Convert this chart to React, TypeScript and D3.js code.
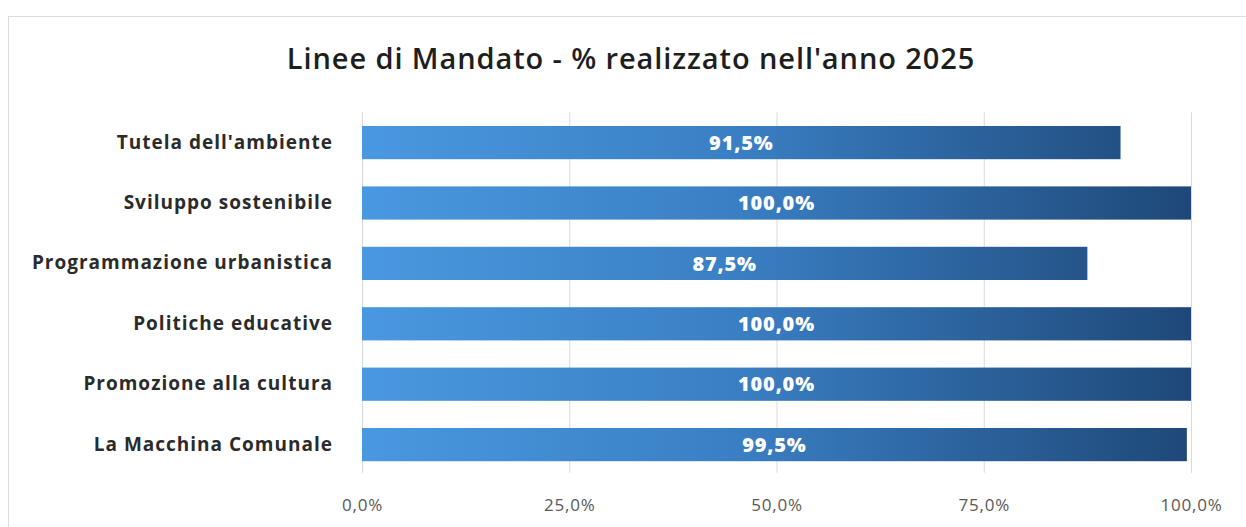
import React, { useEffect, useRef } from 'react';
import * as d3 from 'd3';

const categories = [
  'Tutela dell\'ambiente',
  'Sviluppo sostenibile',
  'Programmazione urbanistica',
  'Politiche educative',
  'Promozione alla cultura',
  'La Macchina Comunale',
];
const values = [0.915, 1.0, 0.875, 1.0, 1.0, 0.995];
const tickValues = [0, 0.25, 0.5, 0.75, 1.0];
const title = "Linee di Mandato - % realizzato nell'anno 2025";

const width = 1246,
  height = 527,
  margin = { top: 112.4, right: 55, bottom: 52.2, left: 362 };

const it = d3.formatLocale({ decimal: ',', thousands: '.', grouping: [3], currency: ['', '€'] });
const pct = it.format('.1%');

export default function App() {
  const ref = useRef<SVGSVGElement>(null);

  useEffect(() => {
    const svg = d3.select(ref.current);
    svg.selectAll('*').remove();

    const x = d3.scaleLinear().domain([0, 1]).range([margin.left, width - margin.right]);
    const y = d3
      .scaleBand()
      .domain(categories)
      .range([margin.top, height - margin.bottom])
      .paddingInner(0.45)
      .paddingOuter(0.225);

    const defs = svg.append('defs');
    const grad = defs
      .append('linearGradient')
      .attr('id', 'barGrad')
      .attr('gradientUnits', 'userSpaceOnUse')
      .attr('x1', x(0))
      .attr('x2', x(1))
      .attr('y1', 0)
      .attr('y2', 0);
    grad.append('stop').attr('offset', '0%').attr('stop-color', '#4a98e0');
    grad.append('stop').attr('offset', '45%').attr('stop-color', '#3a7fc4');
    grad.append('stop').attr('offset', '100%').attr('stop-color', '#1e4878');

    // chart frame
    svg
      .append('rect')
      .attr('x', 8.5)
      .attr('y', 16.5)
      .attr('width', 1260)
      .attr('height', 540)
      .attr('fill', '#fff')
      .attr('stroke', '#dcdcdc');

    svg
      .append('text')
      .attr('x', 631)
      .attr('y', 69)
      .attr('text-anchor', 'middle')
      .attr('font-family', 'Open Sans, sans-serif')
      .attr('font-weight', 600)
      .attr('font-size', 29)
      .attr('letter-spacing', 0.9)
      .attr('fill', '#1e1e1e')
      .text(title);

    // gridlines + ticks
    const gridBottom = height - margin.bottom - 2;
    svg
      .append('g')
      .selectAll('line')
      .data(tickValues)
      .join('line')
      .attr('x1', (d) => x(d) + 0.5)
      .attr('x2', (d) => x(d) + 0.5)
      .attr('y1', margin.top)
      .attr('y2', gridBottom)
      .attr('stroke', '#d9d9d9')
      .attr('stroke-width', 1);

    const xAxis = d3
      .axisBottom(x)
      .tickValues(tickValues)
      .tickFormat((d) => pct(d as number))
      .tickSize(0)
      .tickPadding(0);
    const gx = svg
      .append('g')
      .attr('transform', `translate(0, 511)`)
      .call(xAxis);
    gx.select('.domain').remove();
    gx.selectAll('text')
      .attr('font-family', 'Open Sans, sans-serif')
      .attr('font-size', 17)
      .attr('letter-spacing', 0.8)
      .attr('fill', '#595959')
      .attr('dy', 0);

    const bars = svg.append('g');
    bars
      .selectAll('rect')
      .data(values)
      .join('rect')
      .attr('x', x(0))
      .attr('y', (d, i) => y(categories[i])!)
      .attr('width', (d) => x(d) - x(0))
      .attr('height', y.bandwidth())
      .attr('fill', 'url(#barGrad)');

    bars
      .selectAll('text')
      .data(values)
      .join('text')
      .attr('x', (d) => (x(0) + x(d)) / 2)
      .attr('y', (d, i) => y(categories[i])! + y.bandwidth() / 2)
      .attr('dy', '0.36em')
      .attr('text-anchor', 'middle')
      .attr('font-family', 'Open Sans, sans-serif')
      .attr('font-weight', 800)
      .attr('font-size', 20)
      .attr('letter-spacing', 0.8)
      .attr('fill', '#ffffff')
      .text((d) => pct(d));

    const yAxis = d3.axisLeft(y).tickSize(0).tickPadding(29);
    const gy = svg.append('g').attr('transform', `translate(${margin.left}, 0)`).call(yAxis);
    gy.select('.domain').remove();
    gy.selectAll('text')
      .attr('font-family', 'Open Sans, sans-serif')
      .attr('font-weight', 700)
      .attr('font-size', 19)
      .attr('letter-spacing', 1.0)
      .attr('fill', '#2b2b2b');
  }, []);

  return (
    <svg
      ref={ref}
      width={width}
      height={height}
      style={{ position: 'absolute', left: 0, top: 0, background: '#fff' }}
    />
  );
}
